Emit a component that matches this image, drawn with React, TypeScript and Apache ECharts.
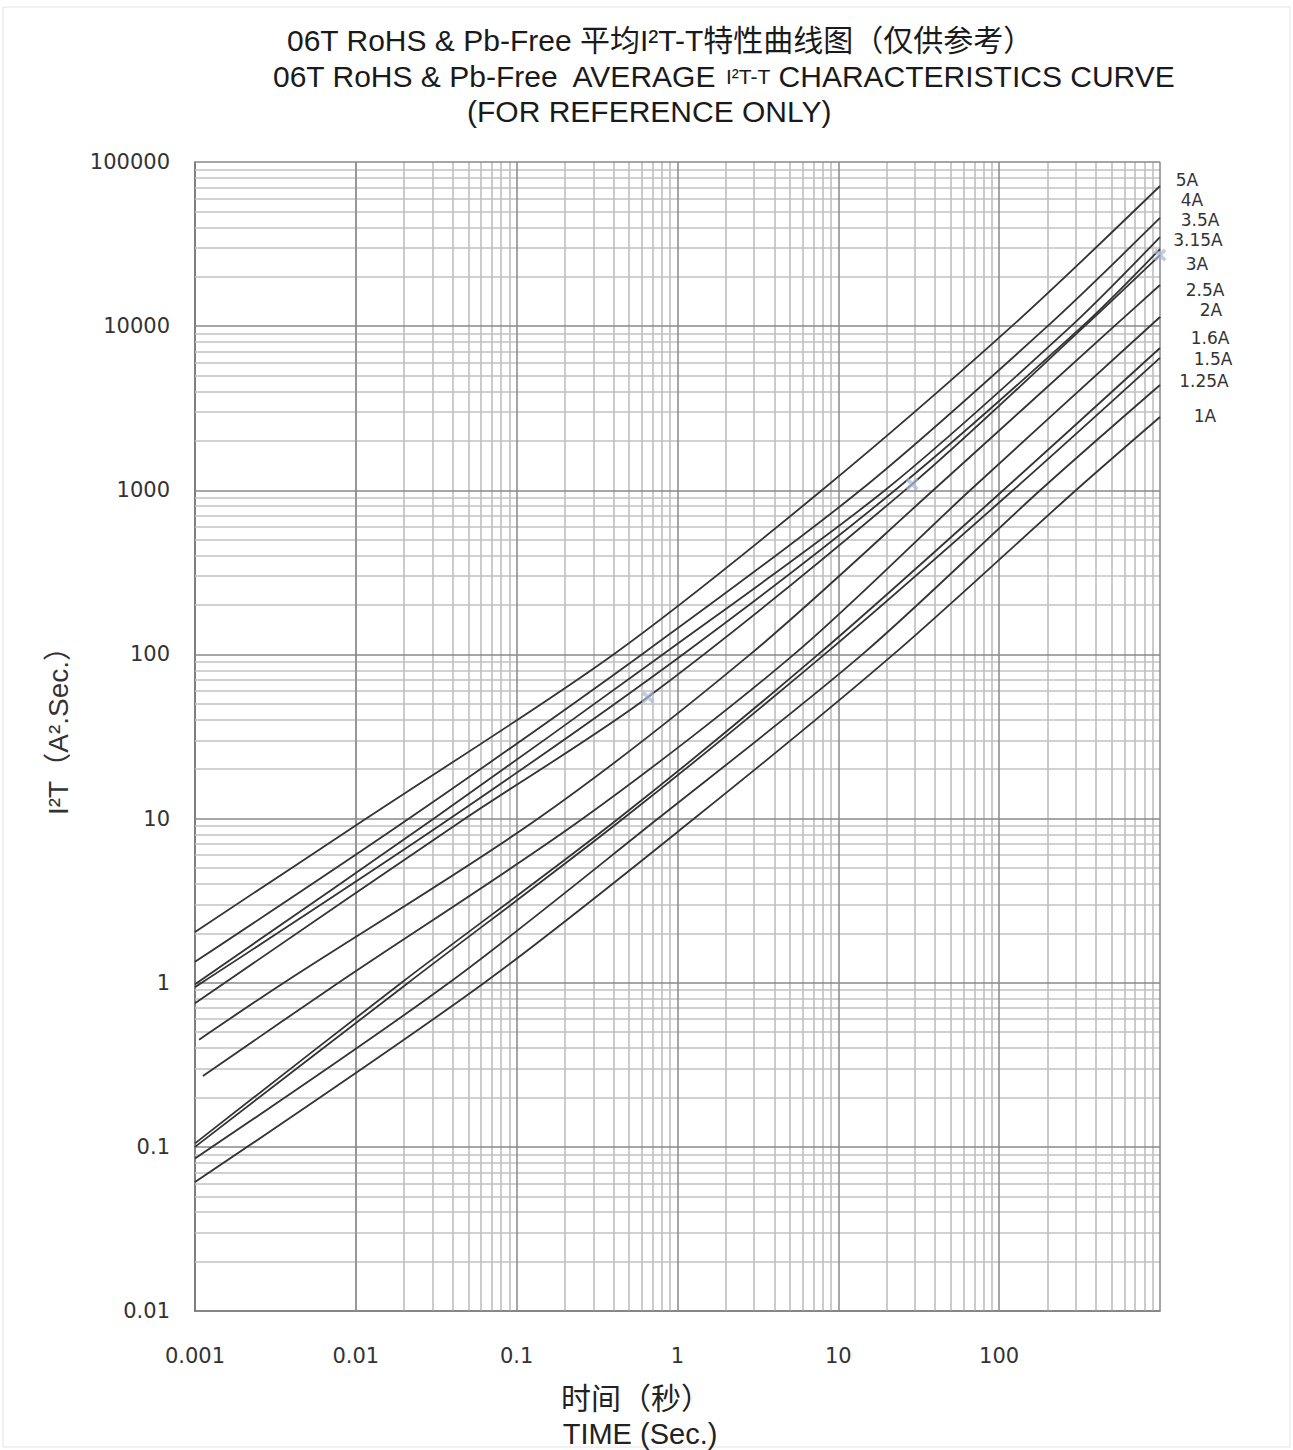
import React, { useEffect, useRef } from "react";
import * as echarts from "echarts";

// ---- data: [time (s), I²t (A²s)] ----
const curveLabels = ["5A", "4A", "3.5A", "3.15A", "3A", "2.5A", "2A", "1.6A", "1.5A", "1.25A", "1A"];

const curve5A = [[0.001, 2.04], [0.0116, 10], [0.4, 100], [7.9, 1000], [120, 10000], [1000, 71400]];
const curve4A = [[0.001, 1.34], [0.0214, 10], [0.6, 100], [13.7, 1000], [200, 10000], [1000, 45600]];
const curve3_5A = [[0.001, 0.98], [0.0306, 10], [0.81, 100], [19.5, 1000], [280, 10000], [1000, 34900]];
const curve3_15A = [[0.001, 0.94], [0.0385, 10], [1.08, 100], [22.5, 1000], [330, 10000], [1000, 29500]];
const curve3A = [[0.001, 0.75], [0.0478, 10], [0.656, 55], [28.8, 1091], [340, 10000], [1000, 27100]];
const curve2_5A = [[0.00106, 0.45], [0.00357, 1], [0.136, 10], [2.83, 100], [38.9, 1000], [520, 10000], [1000, 17800]];
const curve2A = [[0.00112, 0.27], [0.0078, 1], [0.258, 10], [5.3, 100], [66, 1000], [1000, 11370]];
const curve1_6A = [[0.001, 0.105], [0.0192, 1], [0.43, 10], [7.5, 100], [106, 1000], [1000, 7360]];
const curve1_5A = [[0.001, 0.1], [0.0212, 1], [0.46, 10], [8.2, 100], [122, 1000], [1000, 6400]];
const curve1_25A = [[0.001, 0.085], [0.038, 1], [0.757, 10], [14.1, 100], [180, 1000], [1000, 4380]];
const curve1A = [[0.001, 0.061], [0.063, 1], [1.27, 10], [22, 100], [300, 1000], [1000, 2794]];

const curves = [curve5A, curve4A, curve3_5A, curve3_15A, curve3A, curve2_5A, curve2A, curve1_6A, curve1_5A, curve1_25A, curve1A];

// faint "x" markers seen on the picture
const markerPoints = [[0.656, 55], [28.8, 1091], [1000, 27100]];

// axis ticks
const xTicks = [0.001, 0.01, 0.1, 1, 10, 100, 1000];
const xLabelHidden = [1000];
const yTicks = [0.01, 0.1, 1, 10, 100, 1000, 10000, 100000];
const minorFactors = [2, 3, 4, 5, 6, 7, 8, 9];

// ---- layout / style (kept apart from the data) ----
const W = 1293;
const H = 1450;
const plot = { left: 195, top: 162, right: 1160, bottom: 1311 };
const labelCenters = [
  [1187, 180], [1192, 200], [1200, 220], [1198, 240], [1197, 264], [1205, 290],
  [1211, 310], [1210, 338], [1213, 359], [1204, 381], [1205, 416],
];
const LATIN = "'Liberation Sans', Arial, 'Noto Sans CJK SC', sans-serif";
const TICKFONT = "'DejaVu Sans', Verdana, sans-serif";

function fmt(v: number) {
  const n = Number(v.toPrecision(6));
  if (xLabelHidden.indexOf(n) >= 0) return "";
  return String(n);
}
function fmtY(v: number) {
  return String(Number(v.toPrecision(6)));
}

export default function App() {
  const ref = useRef<HTMLDivElement>(null);
  useEffect(() => {
    document.body.style.margin = "0";
    const chart = echarts.init(ref.current!, null, { renderer: "svg" });

    const minorX: any[] = [];
    for (let i = 0; i < xTicks.length - 1; i++) for (const f of minorFactors) minorX.push({ xAxis: xTicks[i] * f });
    const minorY: any[] = [];
    for (let i = 0; i < yTicks.length - 1; i++) for (const f of minorFactors) minorY.push({ yAxis: yTicks[i] * f });
    const majorX = xTicks.map((v) => ({ xAxis: v }));
    const majorY = yTicks.map((v) => ({ yAxis: v }));

    const gridSeries = (data: any[], color: string, width: number, z: number) => ({
      type: "line",
      data: [],
      silent: true,
      z,
      markLine: {
        silent: true,
        symbol: "none",
        animation: false,
        label: { show: false },
        emphasis: { disabled: true },
        lineStyle: { color, width, type: "solid" },
        data,
      },
    });

    const curveSeries = curves.map((c, i) => ({
      name: curveLabels[i],
      type: "line",
      data: c,
      smooth: 0.3,
      showSymbol: false,
      symbol: "none",
      z: 5,
      lineStyle: { color: "#333333", width: 1.8 },
      emphasis: { disabled: true },
    }));

    const graphic: any[] = [
      {
        type: "rect",
        shape: { x: 3, y: 7, width: W - 6, height: H - 10 },
        style: { fill: "none", stroke: "#e4e4e4", lineWidth: 1 },
        silent: true,
      },
      {
        type: "text",
        x: 287,
        y: 40,
        style: {
          text: "06T RoHS & Pb-Free 平均I²T-T特性曲线图（仅供参考）",
          font: `30px ${LATIN}`,
          fill: "#1a1a1a",
          verticalAlign: "middle",
          align: "left",
        },
      },
      {
        type: "text",
        x: 273,
        y: 76,
        style: {
          text: "{a|06T RoHS & Pb-Free  AVERAGE }{s|I²T-T}{a| CHARACTERISTICS CURVE}",
          verticalAlign: "middle",
          align: "left",
          rich: {
            a: { fontSize: 30, fontFamily: LATIN, fill: "#1a1a1a", color: "#1a1a1a" },
            s: { fontSize: 21, fontFamily: LATIN, fill: "#1a1a1a", color: "#1a1a1a" },
          },
        },
      },
      {
        type: "text",
        x: 467,
        y: 111,
        style: {
          text: "(FOR REFERENCE ONLY)",
          font: `30px ${LATIN}`,
          fill: "#1a1a1a",
          verticalAlign: "middle",
          align: "left",
        },
      },
      {
        type: "text",
        x: 58,
        y: 724,
        rotation: Math.PI / 2,
        style: {
          text: "I²T（A².Sec.）",
          font: `28px ${LATIN}`,
          fill: "#333",
          align: "center",
          verticalAlign: "middle",
        },
      },
      {
        type: "text",
        x: 636,
        y: 1396,
        style: {
          text: "时间（秒）",
          font: `30px 'Noto Sans CJK SC', sans-serif`,
          fill: "#222",
          align: "center",
          verticalAlign: "middle",
        },
      },
      {
        type: "text",
        x: 640,
        y: 1434,
        style: {
          text: "TIME (Sec.)",
          font: `29px ${LATIN}`,
          fill: "#222",
          align: "center",
          verticalAlign: "middle",
        },
      },
      ...curveLabels.map((t, i) => ({
        type: "text",
        x: labelCenters[i][0],
        y: labelCenters[i][1],
        style: {
          text: t,
          font: `17px ${TICKFONT}`,
          fill: "#333",
          align: "center",
          verticalAlign: "middle",
        },
      })),
    ];

    chart.setOption({
      animation: false,
      backgroundColor: "#ffffff",
      grid: {
        left: plot.left,
        top: plot.top,
        right: W - plot.right,
        bottom: H - plot.bottom,
        containLabel: false,
      },
      xAxis: {
        type: "log",
        logBase: 10,
        min: xTicks[0],
        max: xTicks[xTicks.length - 1],
        axisLine: { show: true, lineStyle: { color: "#555", width: 1.5 } },
        axisTick: { show: false },
        splitLine: { show: false },
        axisLabel: {
          margin: 34,
          fontSize: 21,
          fontFamily: TICKFONT,
          color: "#333",
          formatter: fmt,
        },
      },
      yAxis: {
        type: "log",
        logBase: 10,
        min: yTicks[0],
        max: yTicks[yTicks.length - 1],
        axisLine: { show: true, lineStyle: { color: "#555", width: 1.5 } },
        axisTick: { show: false },
        splitLine: { show: false },
        axisLabel: {
          margin: 25,
          fontSize: 21,
          fontFamily: TICKFONT,
          color: "#333",
          formatter: fmtY,
        },
      },
      series: [
        gridSeries([...minorX, ...minorY], "#c2c2c2", 1.7, 1),
        gridSeries([...majorX, ...majorY], "#888888", 1.5, 2),
        ...curveSeries,
        {
          type: "scatter",
          data: markerPoints,
          symbol: "path://M2,0 L5,3 L8,0 L10,2 L7,5 L10,8 L8,10 L5,7 L2,10 L0,8 L3,5 L0,3 Z",
          symbolSize: 13,
          itemStyle: { color: "#a9b6d3", opacity: 0.7 },
          z: 6,
          silent: true,
        },
      ],
      graphic,
    });
    return () => chart.dispose();
  }, []);
  return <div ref={ref} style={{ width: W, height: H }} />;
}
